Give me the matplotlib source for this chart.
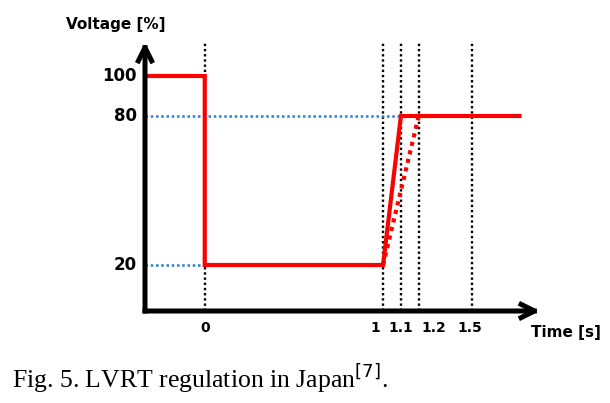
import numpy as np
import matplotlib
matplotlib.use("Agg")
import matplotlib.pyplot as plt

# LVRT curve (Japan), schematic
time_s = [-0.335, 0, 0, 1, 1.1, 1.765]
voltage_pct = [100, 100, 20, 20, 80, 80]
ramp_time = [1, 1.2]
ramp_volt = [20, 80]

time_ticks = [0, 1, 1.1, 1.2, 1.5]
time_labels = ["0", "1", "1.1", "1.2", "1.5"]
volt_ticks = [20, 80, 100]
volt_labels = ["20", "80", "100"]

# schematic (non-linear) voltage axis: value -> drawn height
scale_vals = [0, 20, 80, 100, 120]
scale_pos = [0, 46, 195, 235, 269]


def fwd(v):
    return np.interp(v, scale_vals, scale_pos)


def inv(p):
    return np.interp(p, scale_pos, scale_vals)


W, H = 610, 403
fig = plt.figure(figsize=(W / 100, H / 100), dpi=100)
ax = fig.add_axes([145 / W, (H - 311) / H, (540 - 145) / W, (311 - 42) / H])
ax.set_yscale("function", functions=(fwd, inv))
ax.set_xlim(-0.335, 1.88)
ax.set_ylim(0, 120)
ax.axis("off")

bold = dict(fontweight="bold", family="DejaVu Sans")

# guides
for t in time_ticks:
    ax.plot([t, t], [0, 119.5], color="black", lw=1.7, ls=(0, (1, 1.2)), zorder=1)
ax.plot([-0.335, 1.1], [80, 80], color="#2a7fd0", lw=1.8, ls=(0, (1, 1.1)), zorder=1)
ax.plot([-0.335, 0], [20, 20], color="#2a7fd0", lw=1.8, ls=(0, (1, 1.1)), zorder=1)

# curves
ax.plot(time_s, voltage_pct, color="red", lw=3, solid_joinstyle="miter", zorder=3)
ax.plot(ramp_time, ramp_volt, color="red", lw=3, ls=(0, (1, 1.1)), zorder=3)

# axes with arrows
arrow = dict(arrowstyle="->", lw=3.6, color="black", mutation_scale=24,
             shrinkA=0, shrinkB=0, capstyle="projecting")
ax.annotate("", xy=(0, 1.0), xytext=(0, 0), xycoords="axes fraction", arrowprops=arrow)
ax.annotate("", xy=(1.0, 0), xytext=(0, 0), xycoords="axes fraction", arrowprops=arrow)

# tick labels
x_shift = [0, -8, 0, 15, -2]
for t, lab, dx in zip(time_ticks, time_labels, x_shift):
    ax.annotate(lab, (t, 0), xytext=(dx, -17), textcoords="offset pixels",
                ha="center", va="center", fontsize=10, **bold)
for v, lab in zip(volt_ticks, volt_labels):
    ax.annotate(lab, (-0.335, v), xytext=(-8, 0), textcoords="offset pixels",
                ha="right", va="center", fontsize=12, **bold)

fig.text(116 / W, 1 - 25 / H, "Voltage [%]", ha="center", va="center", fontsize=11, **bold)
fig.text(566 / W, 1 - 333 / H, "Time [s]", ha="center", va="center", fontsize=11, **bold)

fig.text(12 / W, 1 - 378 / H, "Fig. 5. LVRT regulation in Japan$^{[7]}$.",
         ha="left", va="center", fontsize=18.5, family="Liberation Serif")

fig.savefig("out.png", dpi=100)
